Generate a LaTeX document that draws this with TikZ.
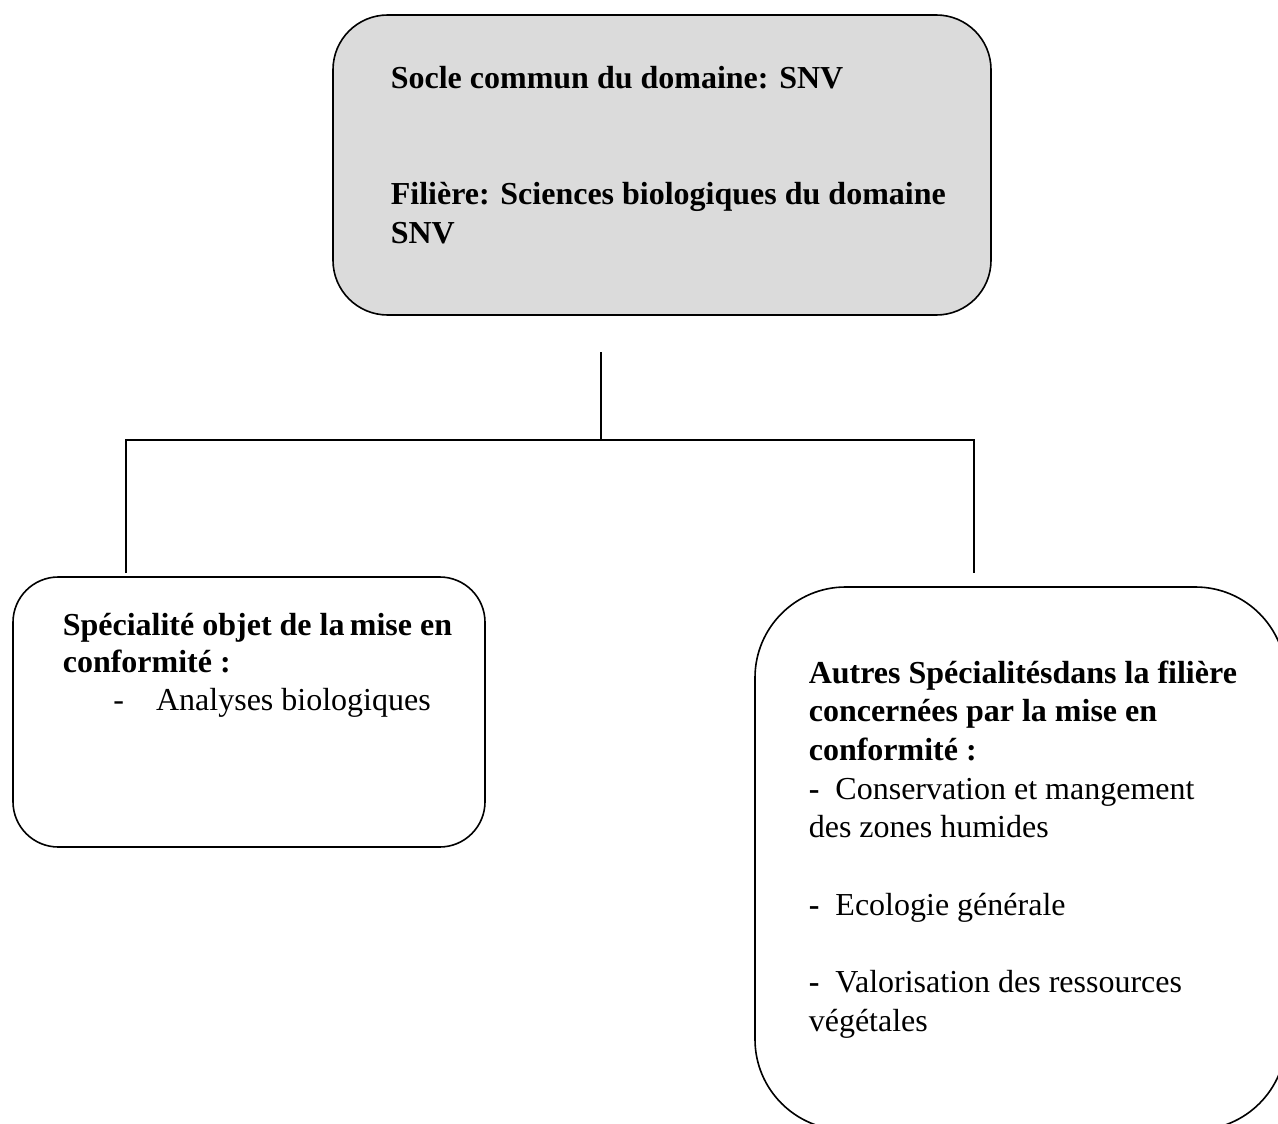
\documentclass[tikz,border=0pt]{standalone}
\usepackage{fontspec}
\setmainfont{Liberation Serif}
\usepackage{xcolor}
\definecolor{soclegray}{RGB}{219,219,219}

\tikzset{boxline/.style={line width=1.2pt},
  boxtext/.style={anchor=base west, align=left, inner sep=0pt}}

\begin{document}
\begin{tikzpicture}[x=0.75pt, y=-0.75pt, boxline]
\useasboundingbox (0,0) rectangle (1278,1124);
\filldraw[fill=soclegray, rounded corners=41pt] (333,15) rectangle (991,315);
\draw[rounded corners=34pt] (13,577) rectangle (485,847);
\draw[rounded corners=68pt] (755,587) rectangle (1286,1130);
% anchored at the baseline of the last line
\node[boxtext, font=\fontsize{24}{29}\selectfont\bfseries] (socle) at (390,243)
  {Socle commun du domaine: SNV\\[58pt]
   Filière: Sciences biologiques du domaine\\
   SNV};
\node[boxtext, font=\fontsize{24}{28.1}\selectfont] (objet) at (62,710)
  {\textbf{Spécialité objet de la\,mise en}\\
   \textbf{conformité :}\\
   \hspace*{38pt}-\hspace{24pt}Analyses biologiques};
\node[boxtext, font=\fontsize{24}{29}\selectfont] (autres) at (808,1031)
  {\textbf{Autres Spécialitésdans la filière}\\
   \textbf{concernées par la mise en}\\
   \textbf{conformité :}\\
   \textbf{-}\hspace{12pt}Conservation et mangement\\
   des zones humides\\[29pt]
   \textbf{-}\hspace{12pt}Ecologie générale\\[29pt]
   \textbf{-}\hspace{12pt}Valorisation des ressources\\
   végétales};
\coordinate (stem) at (601,352);
\coordinate (fork) at (601,440);
\coordinate (lfork) at (126,440);
\coordinate (rfork) at (974,440);
\coordinate (lend) at (126,573);
\coordinate (rend) at (974,573);
\draw (stem) -- (fork);
\draw (lend) -- (lfork) -- (rfork) -- (rend);
\end{tikzpicture}
\end{document}
